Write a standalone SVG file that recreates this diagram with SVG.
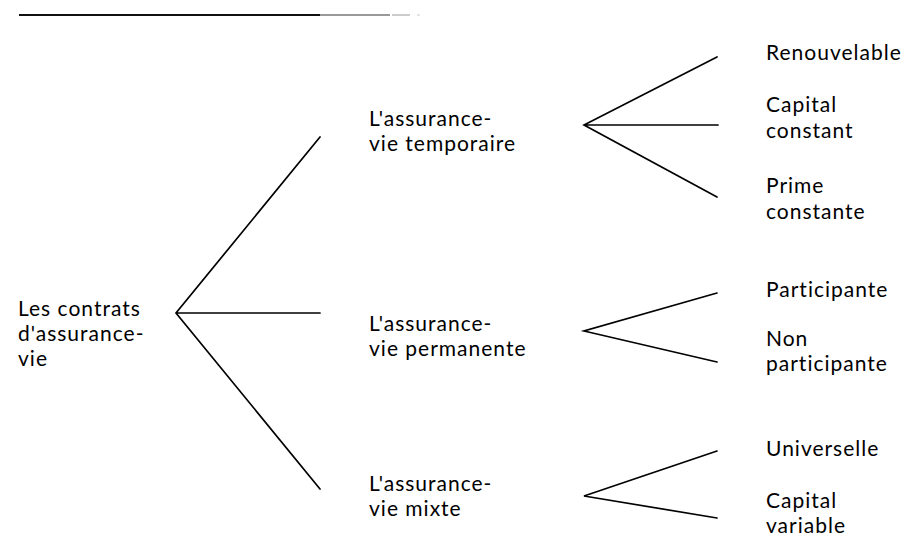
<svg xmlns="http://www.w3.org/2000/svg" width="906" height="539" viewBox="0 0 906 539">
  <style>
    .lbl { font-family: Lato, "Open Sans", "Liberation Sans", sans-serif; font-size: 21px; letter-spacing: 1px; fill: #000; }
    .edge { stroke: #000; stroke-width: 1.7; fill: none; stroke-linecap: round; }
  </style>
  <rect width="906" height="539" fill="#fff"/>

  <!-- header rule -->
  <g id="rule">
    <line x1="19" y1="15" x2="320" y2="15" stroke="#111" stroke-width="2"/>
    <line x1="320" y1="15" x2="390" y2="15" stroke="#777" stroke-width="1.6"/>
    <line x1="392" y1="15" x2="410" y2="15" stroke="#aaa" stroke-width="1.2"/>
    <line x1="417" y1="15" x2="420" y2="15" stroke="#ccc" stroke-width="1"/>
  </g>

  <!-- connectors -->
  <g id="connectors">
    <path class="edge" d="M320 137 L176 313 L320 489 M176 313 L320 313"/>
    <path class="edge" d="M717 57 L584 125 L717 197 M584 125 L718 125"/>
    <path class="edge" d="M717 293 L584 331 L717 362"/>
    <path class="edge" d="M717 451 L584 496 L717 518"/>
  </g>

  <g id="root">
    <text class="lbl" x="18" y="316">Les contrats</text>
    <text class="lbl" x="18" y="341">d'assurance-</text>
    <text class="lbl" x="18" y="366">vie</text>
  </g>

  <g id="temporaire">
    <text class="lbl" x="369" y="126">L'assurance-</text>
    <text class="lbl" x="369" y="151">vie temporaire</text>
  </g>
  <g id="permanente">
    <text class="lbl" x="369" y="331">L'assurance-</text>
    <text class="lbl" x="369" y="356">vie permanente</text>
  </g>
  <g id="mixte">
    <text class="lbl" x="369" y="491">L'assurance-</text>
    <text class="lbl" x="369" y="516">vie mixte</text>
  </g>

  <g id="renouvelable">
    <text class="lbl" x="766" y="60">Renouvelable</text>
  </g>
  <g id="capital-constant">
    <text class="lbl" x="766" y="112">Capital</text>
    <text class="lbl" x="766" y="138">constant</text>
  </g>
  <g id="prime-constante">
    <text class="lbl" x="766" y="193">Prime</text>
    <text class="lbl" x="766" y="219">constante</text>
  </g>
  <g id="participante">
    <text class="lbl" x="766" y="297">Participante</text>
  </g>
  <g id="non-participante">
    <text class="lbl" x="766" y="346">Non</text>
    <text class="lbl" x="766" y="371">participante</text>
  </g>
  <g id="universelle">
    <text class="lbl" x="766" y="456">Universelle</text>
  </g>
  <g id="capital-variable">
    <text class="lbl" x="766" y="508">Capital</text>
    <text class="lbl" x="766" y="533">variable</text>
  </g>
</svg>
